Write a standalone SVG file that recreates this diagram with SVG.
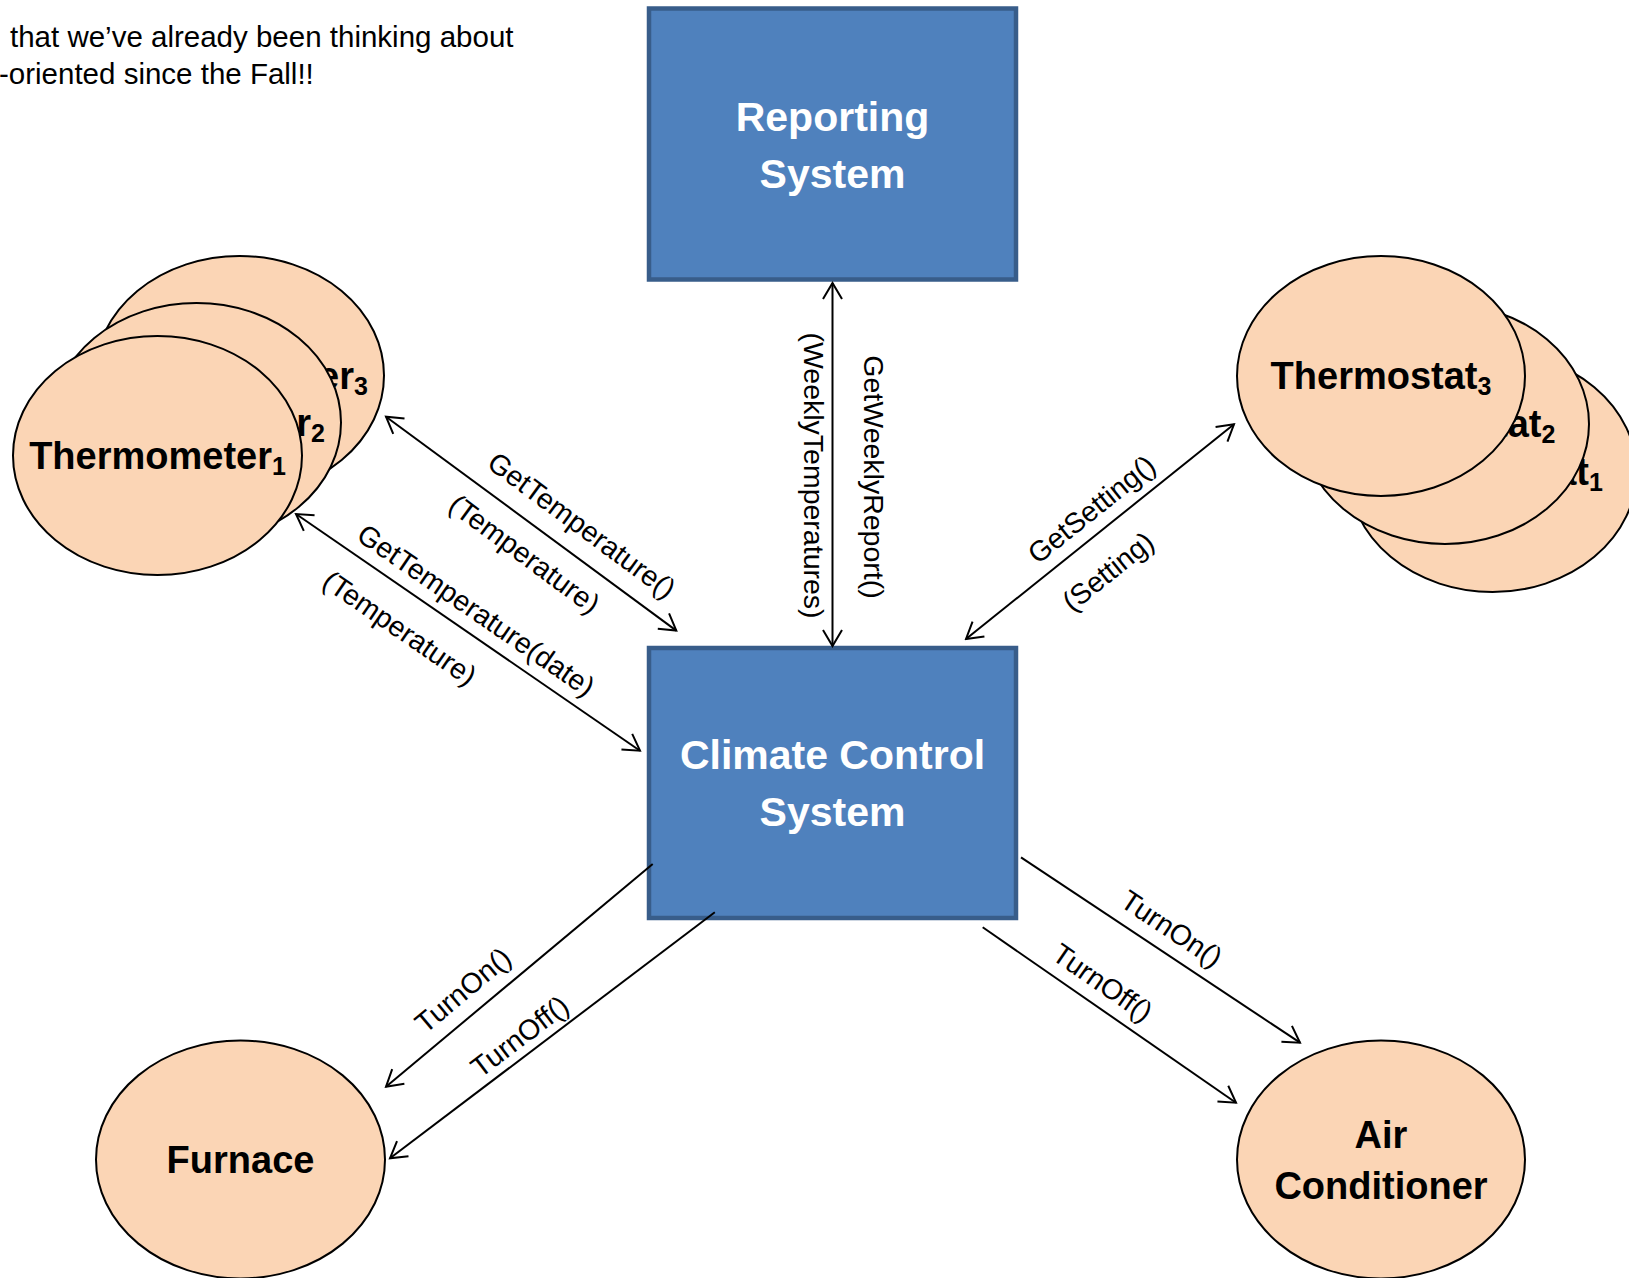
<svg xmlns="http://www.w3.org/2000/svg" width="1629" height="1278" viewBox="0 0 1629 1278">
<style>
.bg{fill:#fff}
.ell{fill:#fbd5b5;stroke:#000;stroke-width:2}
.box{fill:#4f81bd;stroke:#385d8a;stroke-width:4.5}
.et{font-family:"Liberation Sans",Arial,sans-serif;font-weight:bold;font-size:38px;fill:#000;text-anchor:middle}
.bt{font-family:"Liberation Sans",Arial,sans-serif;font-weight:bold;font-size:41px;fill:#fff;text-anchor:middle}
.lbl{font-family:"Liberation Sans",Arial,sans-serif;font-size:28.5px;fill:#000;text-anchor:middle}
.hdr{font-family:"Liberation Sans",Arial,sans-serif;font-size:29.5px;fill:#000}
.con{stroke:#000;stroke-width:2;fill:none}
.sub{font-size:25px}
</style>
<defs>
<marker id="arr" viewBox="-18 -12 20 24" refX="0" refY="0" markerWidth="20" markerHeight="24" markerUnits="userSpaceOnUse" orient="auto-start-reverse">
<path d="M-16,-9.5 L0,0 L-16,9.5" fill="none" stroke="#000" stroke-width="2"/>
</marker>
</defs>
<rect class="bg" x="0" y="0" width="1629" height="1278"/>
<g id="header">
<text class="hdr" x="10" y="47">that we’ve already been thinking about</text>
<text class="hdr" x="-1" y="84">-oriented since the Fall!!</text>
</g>
<g id="thermometer3">
<ellipse class="ell" cx="239.5" cy="375.5" rx="144.5" ry="119.5"/>
<text class="et" x="239.5" y="388.5">Thermometer<tspan class="sub" dy="6">3</tspan></text>
</g>
<g id="thermometer2">
<ellipse class="ell" cx="196.5" cy="422.5" rx="144.5" ry="119.5"/>
<text class="et" x="196.5" y="435.5">Thermometer<tspan class="sub" dy="6">2</tspan></text>
</g>
<g id="thermometer1">
<ellipse class="ell" cx="157.5" cy="455.5" rx="144.5" ry="119.5"/>
<text class="et" x="157.5" y="468.5">Thermometer<tspan class="sub" dy="6">1</tspan></text>
</g>
<g id="thermostat1">
<ellipse class="ell" cx="1492.5" cy="472" rx="144" ry="120"/>
<text class="et" x="1492.5" y="485">Thermostat<tspan class="sub" dy="6">1</tspan></text>
</g>
<g id="thermostat2">
<ellipse class="ell" cx="1445" cy="424" rx="144" ry="120"/>
<text class="et" x="1445" y="437">Thermostat<tspan class="sub" dy="6">2</tspan></text>
</g>
<g id="thermostat3">
<ellipse class="ell" cx="1381" cy="376" rx="144" ry="120"/>
<text class="et" x="1381" y="389">Thermostat<tspan class="sub" dy="6">3</tspan></text>
</g>
<g id="furnace">
<ellipse class="ell" cx="240.5" cy="1159.5" rx="144.5" ry="119"/>
<text class="et" x="240.5" y="1173">Furnace</text>
</g>
<g id="air-conditioner">
<ellipse class="ell" cx="1381" cy="1159.5" rx="144" ry="119"/>
<text class="et" x="1381" y="1148">Air</text>
<text class="et" x="1381" y="1199">Conditioner</text>
</g>
<g id="reporting-system">
<rect class="box" x="649" y="8.5" width="367" height="271"/>
<text class="bt" x="832.5" y="131">Reporting</text>
<text class="bt" x="832.5" y="188">System</text>
</g>
<g id="climate-control-system">
<rect class="box" x="649" y="648" width="367" height="270"/>
<text class="bt" x="832.5" y="769">Climate Control</text>
<text class="bt" x="832.5" y="826">System</text>
</g>
<g id="connectors">
<line class="con" x1="832.5" y1="283" x2="832.5" y2="646" marker-start="url(#arr)" marker-end="url(#arr)"/>
<line class="con" x1="386" y1="416.7" x2="676.3" y2="630.6" marker-start="url(#arr)" marker-end="url(#arr)"/>
<line class="con" x1="296" y1="514" x2="640" y2="750.7" marker-start="url(#arr)" marker-end="url(#arr)"/>
<line class="con" x1="966" y1="639" x2="1234" y2="424.3" marker-start="url(#arr)" marker-end="url(#arr)"/>
<line class="con" x1="652.7" y1="864" x2="386" y2="1086.7" marker-end="url(#arr)"/>
<line class="con" x1="714.8" y1="912.2" x2="390" y2="1158.3" marker-end="url(#arr)"/>
<line class="con" x1="1021" y1="857.3" x2="1300" y2="1042.7" marker-end="url(#arr)"/>
<line class="con" x1="982.7" y1="927.3" x2="1236" y2="1102.7" marker-end="url(#arr)"/>
<text class="lbl" transform="translate(804,475.5) rotate(90)">(WeeklyTemperatures)</text>
<text class="lbl" transform="translate(864,477) rotate(90)">GetWeeklyReport()</text>
<text class="lbl" transform="translate(575.9,533.2) rotate(36.42)">GetTemperature()</text>
<text class="lbl" transform="translate(518.7,561.9) rotate(36.42)">(Temperature)</text>
<text class="lbl" transform="translate(470.6,618.4) rotate(34.53)">GetTemperature(date)</text>
<text class="lbl" transform="translate(394.1,636.1) rotate(34.53)">(Temperature)</text>
<text class="lbl" transform="translate(1097.6,517) rotate(-38.69)">GetSetting()</text>
<text class="lbl" transform="translate(1114.2,579.2) rotate(-38.69)">(Setting)</text>
<text class="lbl" transform="translate(469.3,997.7) rotate(-39.86)">TurnOn()</text>
<text class="lbl" transform="translate(525.7,1044.3) rotate(-37.13)">TurnOff()</text>
<text class="lbl" transform="translate(1166.1,936.9) rotate(33.6)">TurnOn()</text>
<text class="lbl" transform="translate(1097,990.6) rotate(34.7)">TurnOff()</text>
</g>
</svg>
